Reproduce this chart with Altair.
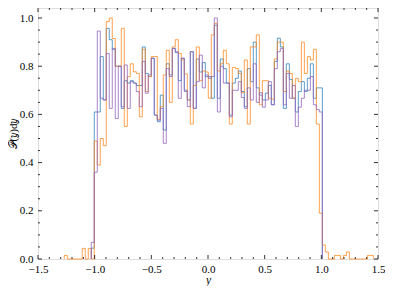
import altair as alt
import pandas as pd
import numpy as np

# Histogram bins (common width), first edge of bin index 0
BIN_START = -1.0035
BIN_WIDTH = 0.02648

# bin values, starting at bin index *_first
blue_first = -1
blue = [0.045,
        0.61, 0.61, 0.84, 0.66, 0.957, 0.91, 0.87, 0.80, 0.80, 0.625, 0.74, 0.73, 0.74, 0.73, 0.72,
        0.72, 0.88, 0.77, 0.757, 0.833, 0.597, 0.57, 0.68, 0.535, 0.81, 0.764, 0.874, 0.856, 0.74, 0.833, 0.70,
        0.66, 0.86, 0.625, 0.83, 0.776, 0.815, 0.757, 0.757, 0.667, 0.97, 0.667, 0.83, 0.79, 0.73, 0.597, 0.73,
        0.75, 0.78, 0.695, 0.632, 0.79, 0.736, 0.90, 0.71, 0.68, 0.66, 0.688, 0.72, 0.64, 0.82, 0.916,
        0.88, 0.625, 0.81, 0.745, 0.667, 0.61, 0.695, 0.736, 0.695, 0.75, 0.81, 0.667, 0.71, 0.71]

purple_first = -1
purple = [0.069,
          0.36, 0.946, 0.667, 0.66, 0.853, 0.625, 0.874, 0.583, 0.80, 0.632, 0.805, 0.625, 0.736, 0.73, 0.695,
          0.632, 0.82, 0.688, 0.764, 0.833, 0.597, 0.576, 0.625, 0.48, 0.79, 0.757, 0.874, 0.86, 0.667, 0.833, 0.695,
          0.632, 0.86, 0.625, 0.736, 0.846, 0.71, 0.764, 0.75, 0.757, 1.0, 0.61, 0.80, 0.73, 0.73, 0.59, 0.70,
          0.70, 0.736, 0.67, 0.625, 0.71, 0.66, 0.81, 0.65, 0.69, 0.63, 0.66, 0.736, 0.64, 0.79, 0.86,
          0.874, 0.64, 0.77, 0.667, 0.72, 0.55, 0.63, 0.667, 0.70, 0.70, 0.757, 0.64, 0.62, 0.61]

orange_first = -10
orange = [0.0146, 0, 0, 0, 0, 0, 0.044, 0, 0.044, 0,
          0.49, 0.39, 0.50, 0.47, 0.985, 1.0, 0.915, 0.80, 0.80, 0.957, 0.55, 0.757, 0.81, 0.777, 0.77,
          0.59, 0.87, 0.695, 0.757, 0.84, 0.84, 0.58, 0.632, 0.764, 0.866, 0.65, 0.88, 0.91, 0.853, 0.826, 0.768,
          0.66, 0.56, 0.72, 0.88, 0.74, 0.78, 0.776, 0.667, 0.93, 0.978, 0.78, 0.81, 0.866, 0.81, 0.56, 0.795,
          0.79, 0.77, 0.69, 0.826, 0.56, 0.88, 0.88, 0.93, 0.64, 0.74, 0.74, 0.667, 0.663, 0.83, 0.90,
          0.90, 0.695, 0.78, 0.77, 0.667, 0.75, 0.736, 0.90, 0.77, 0.84, 0.826, 0.87, 0.56, 0.19,
          0.058, 0.029, 0, 0, 0.0146, 0.0146, 0, 0.0146, 0.029, 0, 0, 0, 0, 0, 0, 0.0146, 0.0146]

x_major = [-1.5, -1.0, -0.5, 0.0, 0.5, 1.0, 1.5]
y_major = [0.0, 0.2, 0.4, 0.6, 0.8, 1.0]
x_minor = [round(v / 10, 1) for v in range(-15, 16)]
y_minor = [round(v / 20, 2) for v in range(0, 21)]

W, H = 340, 251
XMIN, XMAX = -1.5, 1.5
YMAX = 251 / 241

FONT = "Liberation Serif"
YTITLE = "𝒫(𝑦)d𝑦"


def steps(first, vals, name):
    edges = [BIN_START + (first + i) * BIN_WIDTH for i in range(len(vals) + 1)]
    rows = [{"x": edges[0], "v": 0.0, "o": 0}]
    for i, v in enumerate(vals):
        rows.append({"x": edges[i], "v": v, "o": i + 1})
    rows.append({"x": edges[-1], "v": vals[-1], "o": len(vals) + 1})
    rows.append({"x": edges[-1], "v": 0.0, "o": len(vals) + 2})
    df = pd.DataFrame(rows)
    df["s"] = name
    return df


xs = alt.Scale(domain=[XMIN, XMAX], nice=False, zero=False)
ys = alt.Scale(domain=[0, YMAX], nice=False, zero=False)

xaxis = alt.Axis(values=x_major, format=".1f", ticks=False, domain=False, grid=False,
                 labelFont=FONT, labelFontSize=11, labelColor="black", labelPadding=4,
                 labelFlush=False, title="y", titleFont=FONT, titleFontSize=11.5,
                 titleFontStyle="italic", titleFontWeight="normal", titleColor="black",
                 titleBaseline="middle", titleY=21)
yaxis = alt.Axis(values=y_major, format=".1f", ticks=False, domain=False, grid=False,
                 labelFont=FONT, labelFontSize=11, labelColor="black", labelPadding=5,
                 labelFlush=False, title=YTITLE, titleFont=FONT, titleFontSize=11,
                 titleFontWeight="normal", titleColor="black",
                 titleBaseline="middle", titleX=-25)


def line(df, color, opacity):
    enc = dict(
        x=alt.X("x:Q", scale=xs, axis=xaxis, title="y"),
        y=alt.Y("v:Q", scale=ys, axis=yaxis, title=YTITLE),
        order="o:Q",
    )
    return alt.Chart(df).mark_line(interpolate="step-after", color=color,
                                   strokeWidth=1.0, opacity=opacity).encode(**enc)


layers = [
    line(steps(blue_first, blue, "blue"), "#1f77b4", 0.72),
    line(steps(orange_first, orange, "orange"), "#ff7f0e", 0.72),
    line(steps(purple_first, purple, "purple"), "#9467bd", 0.8),
]

xmaj = pd.DataFrame({"p": x_major})
xmin_df = pd.DataFrame({"p": [v for v in x_minor if v not in x_major]})
ymaj = pd.DataFrame({"p": y_major})
ymin_df = pd.DataFrame({"p": [v for v in y_minor if v not in y_major]})

MAJ, MIN = 4, 2
rule = dict(color="black", strokeWidth=0.8)
XE = dict(scale=xs, axis=xaxis, title="y")
YE = dict(scale=ys, axis=yaxis, title=YTITLE)
for df, L in [(xmaj, MAJ), (xmin_df, MIN)]:
    layers.append(alt.Chart(df).mark_rule(**rule).encode(
        x=alt.X("p:Q", **XE), y=alt.value(H), y2=alt.value(H - L)))
    layers.append(alt.Chart(df).mark_rule(**rule).encode(
        x=alt.X("p:Q", **XE), y=alt.value(0), y2=alt.value(L)))
for df, L in [(ymaj, MAJ), (ymin_df, MIN)]:
    layers.append(alt.Chart(df).mark_rule(**rule).encode(
        y=alt.Y("p:Q", **YE), x=alt.value(0), x2=alt.value(L)))
    layers.append(alt.Chart(df).mark_rule(**rule).encode(
        y=alt.Y("p:Q", **YE), x=alt.value(W), x2=alt.value(W - L)))

chart = alt.layer(*layers).properties(
    width=W, height=H,
    autosize=alt.AutoSizeParams(type="none"),
    padding={"left": 30, "top": 0, "right": 7, "bottom": 27},
).configure_view(stroke="black", strokeWidth=1).configure(background="white")

chart.save("out.html", embed_options={"renderer": "svg", "actions": False})
